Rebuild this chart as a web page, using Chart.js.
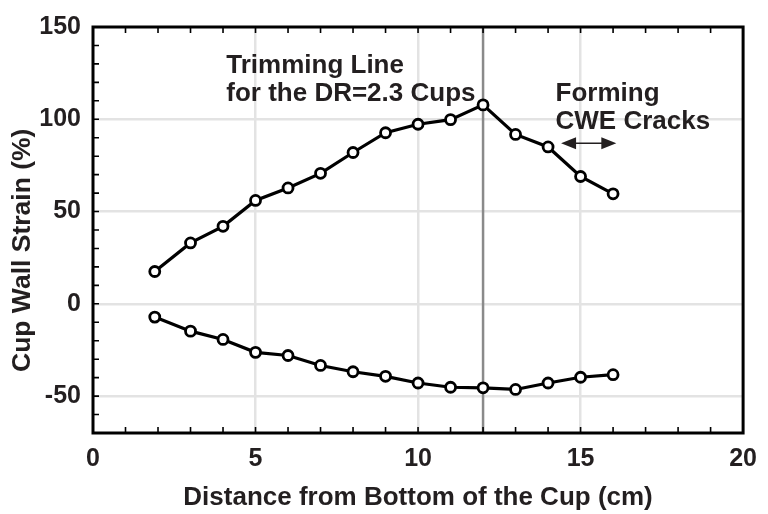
<!DOCTYPE html>
<html>
<head>
<meta charset="utf-8">
<script src="https://cdn.jsdelivr.net/npm/chart.js@4/dist/chart.umd.min.js"></script>
<style>
html,body{margin:0;padding:0;background:#fff;}
#wrap{width:768px;height:514px;}
</style>
</head>
<body>
<div id="wrap"><canvas id="c" width="768" height="514"></canvas></div>
<script>
// ---- data ----
const distance = [1.9, 3, 4, 5, 6, 7, 8, 9, 10, 11, 12, 13, 14, 15, 16];
const upperStrain = [17.5, 33, 42, 56, 62.8, 70.7, 82, 92.7, 97.3, 99.8, 107.8, 91.8, 85, 69, 59.6];
const lowerStrain = [-7.2, -14.8, -19.3, -26.3, -28, -33.4, -36.8, -39.3, -42.9, -45.2, -45.5, -46.4, -42.9, -39.8, -38.4];
const xTickValues = [0, 5, 10, 15, 20];
const yTickValues = [-50, 0, 50, 100, 150];
const xMinorTicks = [0,1,2,3,4,5,6,7,8,9,10,11,12,13,14,15,16,17,18,19,20];
const yMinorTicks = [-70,-60,-50,-40,-30,-20,-10,0,10,20,30,40,50,60,70,80,90,100,110,120,130,140,150];
const trimmingLineX = 12;
const crackRange = [14.4, 16.1];
const crackArrowY = 87;
const trimLabel = ['Trimming Line', 'for the DR=2.3 Cups'];
const crackLabel = ['Forming', 'CWE Cracks'];
const xTitle = 'Distance from Bottom of the Cup (cm)';
const yTitle = 'Cup Wall Strain (%)';

const FONT = '"Liberation Sans", Arial, Helvetica, sans-serif';
const INK = '#231f20';

const overlay = {
  id: 'overlay',
  beforeDatasetsDraw(chart) {
    const {ctx, chartArea: a, scales: {x}} = chart;
    ctx.save();
    ctx.strokeStyle = '#8a8a8a';
    ctx.lineWidth = 2.5;
    const px = x.getPixelForValue(trimmingLineX);
    ctx.beginPath(); ctx.moveTo(px, a.top); ctx.lineTo(px, a.bottom); ctx.stroke();
    ctx.restore();
  },
  afterDatasetsDraw(chart) {
    const {ctx, chartArea: a, scales: {x, y}} = chart;
    ctx.save();
    // minor tick marks (inward)
    ctx.strokeStyle = '#000';
    ctx.lineWidth = 1.6;
    ctx.beginPath();
    xMinorTicks.forEach(v => {
      const px = x.getPixelForValue(v);
      ctx.moveTo(px, a.top); ctx.lineTo(px, a.top + 6);
      ctx.moveTo(px, a.bottom); ctx.lineTo(px, a.bottom - 6);
    });
    yMinorTicks.forEach(v => {
      const py = y.getPixelForValue(v);
      ctx.moveTo(a.left, py); ctx.lineTo(a.left + 6, py);
    });
    ctx.stroke();
    // frame
    ctx.lineWidth = 3;
    ctx.strokeRect(a.left, a.top, a.right - a.left, a.bottom - a.top);

    // annotation texts
    ctx.fillStyle = INK;
    ctx.font = 'bold 26px ' + FONT;
    ctx.textAlign = 'left';
    ctx.textBaseline = 'alphabetic';
    ctx.fillText(trimLabel[0], x.getPixelForValue(4.1), y.getPixelForValue(125));
    ctx.fillText(trimLabel[1], x.getPixelForValue(4.1), y.getPixelForValue(109.8));
    ctx.fillText(crackLabel[0], x.getPixelForValue(14.23), y.getPixelForValue(109.8));
    ctx.fillText(crackLabel[1], x.getPixelForValue(14.23), y.getPixelForValue(94.6));

    // double arrow
    const x1 = x.getPixelForValue(crackRange[0]);
    const x2 = x.getPixelForValue(crackRange[1]);
    const ay = y.getPixelForValue(crackArrowY);
    ctx.strokeStyle = INK;
    ctx.lineWidth = 1.5;
    ctx.beginPath(); ctx.moveTo(x1 + 10, ay); ctx.lineTo(x2 - 10, ay); ctx.stroke();
    ctx.beginPath();
    ctx.moveTo(x1, ay); ctx.lineTo(x1 + 15, ay - 6); ctx.lineTo(x1 + 15, ay + 6); ctx.closePath();
    ctx.moveTo(x2, ay); ctx.lineTo(x2 - 15, ay - 6); ctx.lineTo(x2 - 15, ay + 6); ctx.closePath();
    ctx.fill();

    // y-axis title (rotated), placed like the reference
    ctx.font = 'bold 26.5px ' + FONT;
    ctx.textAlign = 'center';
    ctx.textBaseline = 'middle';
    ctx.translate(23, y.getPixelForValue(29));
    ctx.rotate(-Math.PI / 2);
    ctx.fillText(yTitle, 0, 0);
    ctx.restore();
  }
};

const seriesStyle = {
  showLine: true,
  borderColor: '#000',
  borderWidth: 3.2,
  pointRadius: 5,
  pointBorderWidth: 2.8,
  pointBackgroundColor: '#fff',
  pointBorderColor: '#000',
  tension: 0
};

const gridColor = c => (c.tick && (c.tick.value === c.scale.min || c.tick.value === c.scale.max)) ? 'rgba(0,0,0,0)' : '#e3e3e3';

new Chart(document.getElementById('c'), {
  type: 'scatter',
  data: {
    datasets: [
      Object.assign({label: 'upper', data: distance.map((d, i) => ({x: d, y: upperStrain[i]}))}, seriesStyle),
      Object.assign({label: 'lower', data: distance.map((d, i) => ({x: d, y: lowerStrain[i]}))}, seriesStyle)
    ]
  },
  options: {
    responsive: false,
    animation: false,
    devicePixelRatio: 1,
    layout: {padding: {left: 0, top: 23, right: 16, bottom: 0}},
    plugins: {legend: {display: false}, tooltip: {enabled: false}},
    scales: {
      x: {
        type: 'linear', min: 0, max: 20,
        afterBuildTicks: s => { s.ticks = xTickValues.map(v => ({value: v})); },
        afterFit: s => { s.height = 81; },
        grid: {color: gridColor, lineWidth: 2.5, drawTicks: false},
        border: {display: false},
        ticks: {font: {family: FONT, size: 25, weight: 'bold'}, color: INK, padding: 11, maxRotation: 0, autoSkip: false},
        title: {display: true, text: xTitle, font: {family: FONT, size: 26, weight: 'bold'}, color: INK, padding: {top: 0, bottom: 1}}
      },
      y: {
        type: 'linear', min: -70, max: 150,
        afterBuildTicks: s => { s.ticks = yTickValues.map(v => ({value: v})); },
        afterFit: s => { s.width = 93; },
        grid: {color: gridColor, lineWidth: 2.5, drawTicks: false},
        border: {display: false},
        ticks: {font: {family: FONT, size: 25, weight: 'bold'}, color: INK, padding: 12, autoSkip: false},
        title: {display: false}
      }
    }
  },
  plugins: [overlay]
});
</script>
</body>
</html>
